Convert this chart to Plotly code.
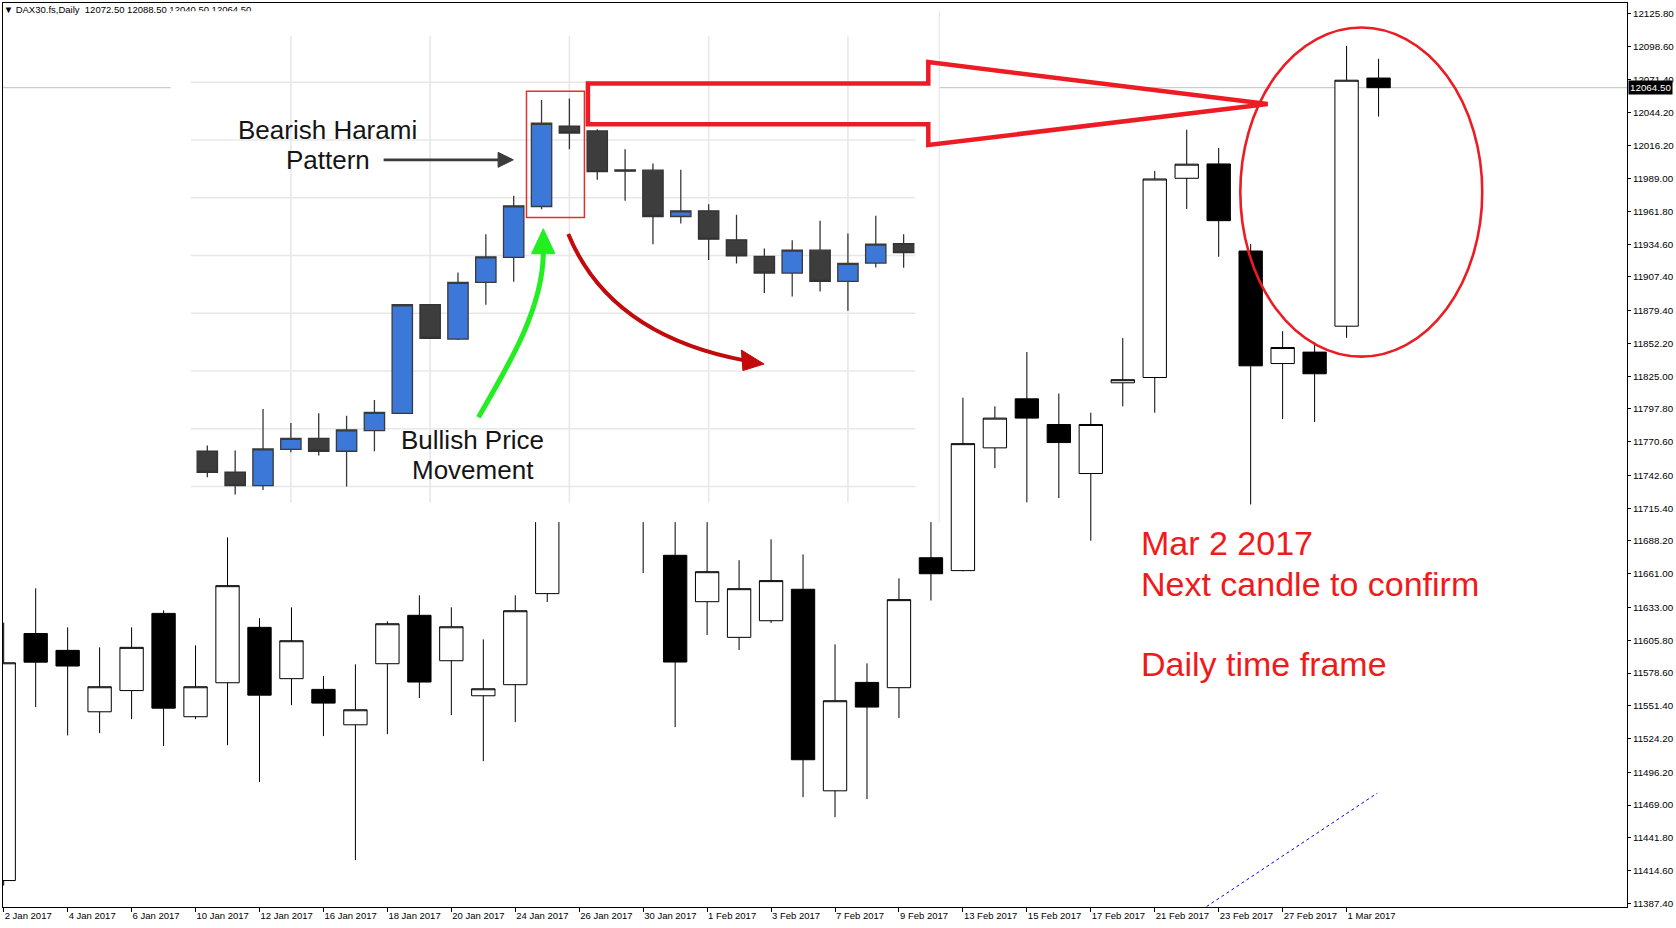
import pandas as pd
import plotly.graph_objects as go

# ---- DAX30.fs daily candles, 2 Jan - 2 Mar 2017 ----
days = [
    "2017-01-02", "2017-01-03", "2017-01-04", "2017-01-05", "2017-01-06",
    "2017-01-09", "2017-01-10", "2017-01-11", "2017-01-12", "2017-01-13",
    "2017-01-16", "2017-01-17", "2017-01-18", "2017-01-19", "2017-01-20",
    "2017-01-23", "2017-01-24", "2017-01-25", "2017-01-26", "2017-01-27",
    "2017-01-30", "2017-01-31", "2017-02-01", "2017-02-02", "2017-02-03",
    "2017-02-06", "2017-02-07", "2017-02-08", "2017-02-09", "2017-02-10",
    "2017-02-13", "2017-02-14", "2017-02-15", "2017-02-16", "2017-02-17",
    "2017-02-20", "2017-02-21", "2017-02-22", "2017-02-23", "2017-02-24",
    "2017-02-27", "2017-02-28", "2017-03-01", "2017-03-02",
]
opens = [
    11406.3, 11611.4, 11597.4, 11546.4, 11564.0, 11628.1, 11542.3, 11570.5,
    11616.5, 11573.9, 11565.0, 11535.6, 11586.3, 11626.5, 11588.8, 11559.7,
    11568.9, 11644.5, 11812.0, 11850.0, 11790.0, 11676.3, 11637.8, 11608.2,
    11622.0, 11648.1, 11480.8, 11570.8, 11566.4, 11674.3, 11663.6, 11765.5,
    11806.2, 11784.9, 11744.2, 11819.5, 11823.9, 11989.3, 12001.2, 11928.9,
    11835.5, 11845.0, 11866.5, 12072.5,
]
highs = [
    11620.4, 11648.9, 11616.5, 11599.9, 11616.5, 11630.6, 11601.6, 11691.2,
    11624.1, 11633.1, 11576.0, 11585.8, 11621.5, 11643.1, 11633.1, 11606.5,
    11643.1, 11825.0, 11893.0, 11866.0, 11800.0, 11715.0, 11712.0, 11672.2,
    11689.6, 11677.1, 11602.4, 11586.6, 11657.2, 11715.0, 11807.1, 11800.0,
    11845.1, 11810.6, 11794.7, 11856.6, 11995.4, 12029.6, 12014.5, 11934.7,
    11862.4, 11853.3, 12099.2, 12088.5,
]
lows = [
    11402.2, 11550.3, 11526.8, 11528.7, 11540.3, 11517.9, 11540.3, 11518.7,
    11488.0, 11551.9, 11526.2, 11423.2, 11527.8, 11557.8, 11543.7, 11505.4,
    11537.8, 11637.5, 11805.0, 11790.0, 11661.6, 11533.7, 11610.1, 11597.7,
    11620.1, 11475.5, 11458.9, 11473.9, 11541.2, 11638.8, 11663.0, 11748.6,
    11720.3, 11723.8, 11688.4, 11800.0, 11794.7, 11963.8, 11924.1, 11718.5,
    11789.4, 11786.9, 11856.8, 12040.5,
]
closes = [
    11587.1, 11587.6, 11584.4, 11567.2, 11599.9, 11549.4, 11567.2, 11651.1,
    11560.2, 11605.4, 11553.6, 11548.1, 11619.5, 11571.1, 11617.0, 11565.5,
    11630.3, 11810.0, 11850.0, 11815.0, 11712.0, 11587.7, 11662.7, 11648.6,
    11655.3, 11506.6, 11555.6, 11550.3, 11639.5, 11661.0, 11769.0, 11790.2,
    11790.2, 11769.9, 11784.9, 11822.1, 11988.7, 12001.0, 11954.1, 11833.6,
    11848.8, 11827.0, 12070.7, 12064.5,
]
price_ticks = [
    11387.40, 11414.60, 11441.80, 11469.00, 11496.20, 11524.20, 11551.40,
    11578.60, 11605.80, 11633.00, 11661.00, 11688.20, 11715.40, 11742.60,
    11770.60, 11797.80, 11825.00, 11852.20, 11879.40, 11907.40, 11934.60,
    11961.80, 11989.00, 12016.20, 12044.20, 12071.40, 12098.60, 12125.80,
]
last_price = 12064.50
header = "\u25bc DAX30.fs,Daily\u00a0\u00a012072.50 12088.50 12040.50 12064.50"

# blue dotted trend line (bar index, price)
trend_x = [37.62, 42.96]
trend_y = [11384.7, 11478.9]

# ---- pasted tutorial picture (own scale, bar index / arbitrary price) ----
in_open = [16.11, 12.47, 10.17, 16.45, 18.35, 16.11, 19.68, 22.68, 41.47, 35.53,
           45.33, 49.66, 58.48, 72.40, 71.56, 64.80, 64.76, 56.75, 57.73, 52.71,
           49.83, 46.95, 50.92, 45.51, 48.68, 52.05]
in_high = [17.09, 16.22, 23.43, 21.01, 22.68, 22.27, 24.98, 41.47, 41.47, 47.06,
           53.69, 60.32, 76.93, 77.16, 71.85, 68.39, 65.91, 64.82, 58.88, 57.04,
           51.21, 52.65, 56.00, 53.81, 56.86, 53.66]
in_low = [11.61, 8.61, 9.42, 15.93, 15.36, 9.99, 16.11, 22.60, 35.65, 35.36,
          41.47, 45.45, 58.02, 68.39, 63.09, 59.46, 51.96, 55.54, 49.20, 48.62,
          43.49, 42.91, 43.78, 40.43, 47.93, 47.87]
in_close = [12.47, 10.17, 16.51, 18.35, 16.11, 19.80, 22.85, 41.47, 35.65, 45.33,
            49.77, 58.59, 72.89, 71.20, 64.53, 64.60, 56.75, 57.73, 52.83, 49.94,
            46.95, 50.92, 45.51, 48.62, 51.96, 50.48]
in_grid_y = [10, 20, 30, 40, 50, 60, 70, 80]
in_grid_x = [3, 8, 13, 18, 23]

# ---- geometry ----
W, H = 1676, 928
L, R, T, B = 2, 47, 2, 21
PW, PH = W - L - R, H - T - B
x_lo, x_hi = -0.022, 50.77
y_lo, y_hi = 11384.35, 12134.8


def px(x, y):
    """screen pixel -> paper coords"""
    return (x - L) / PW, 1 - (y - T) / PH


def path(cmds):
    out = []
    for c in cmds:
        if isinstance(c, str):
            out.append(c)
        else:
            a, b = px(*c)
            out.append(f"{a:.5f},{b:.5f}")
    return " ".join(out)


pos = list(range(len(days)))
dt = pd.to_datetime(days)
tick_labels = [f"{d.day} {d:%b %Y}" for d in dt[::2]]

fig = go.Figure()

fig.add_trace(go.Candlestick(
    x=pos, open=opens, high=highs, low=lows, close=closes,
    increasing=dict(line=dict(color="black", width=1), fillcolor="white"),
    decreasing=dict(line=dict(color="black", width=1), fillcolor="black"),
))
fig.add_trace(go.Scatter(x=[x_lo + 0.02], y=[12128.4], mode="text", text=[header],
                         textposition="middle right",
                         textfont=dict(size=9.5, color="black"), hoverinfo="skip"))

# inset picture
fig.add_trace(go.Candlestick(
    x=list(range(len(in_open))), open=in_open, high=in_high, low=in_low, close=in_close,
    xaxis="x2", yaxis="y2",
    increasing=dict(line=dict(color="#3a3a3a", width=1.3), fillcolor="#3b78d8"),
    decreasing=dict(line=dict(color="#333333", width=1.3), fillcolor="#3d3d3d"),
))

ix0, iy1 = px(170, 10.2)
ix1, iy0 = px(940, 521.7)

red = "#ed1c24"
shapes = [
    # price line, under the candles
    dict(type="line", xref="x", yref="y", layer="below", x0=x_lo, x1=x_hi,
         y0=last_price, y1=last_price, line=dict(color="#c0c0c0", width=1)),
]
for v in in_grid_y:
    shapes.append(dict(type="line", xref="x2", yref="y2", layer="below",
                       x0=-0.588, x1=25.42, y0=v, y1=v,
                       line=dict(color="#e8e8e8", width=1.6)))
for i in in_grid_x:
    shapes.append(dict(type="line", xref="x2", yref="y2", layer="below",
                       x0=i, x1=i, y0=7.18, y1=87.95,
                       line=dict(color="#e8e8e8", width=1.6)))

shapes += [
    # harami box
    dict(type="rect", xref="x2", yref="y2", x0=11.46, x1=13.54, y0=56.57, y1=78.41,
         line=dict(color="#e03030", width=1.5)),
    # faint right edge of the picture
    dict(type="line", xref="paper", yref="paper", x0=ix1, x1=ix1, y0=iy0, y1=iy1,
         line=dict(color="#e2e2ea", width=1)),
    # pattern arrow
    dict(type="path", xref="paper", yref="paper",
         path=path(["M", (383.3, 159), "L", (502, 159)]),
         line=dict(color="#3c3c3c", width=2.8)),
    dict(type="path", xref="paper", yref="paper",
         path=path(["M", (513.3, 159), "L", (498, 151.5), "L", (498, 166.5), "Z"]),
         fillcolor="#3c3c3c", line=dict(color="#3c3c3c", width=1)),
    # green curved arrow
    dict(type="path", xref="paper", yref="paper",
         path=path(["M", (478.3, 416.7), "C", (505, 370), (543, 310), (543.3, 252)]),
         line=dict(color="#22ee22", width=5)),
    dict(type="path", xref="paper", yref="paper",
         path=path(["M", (543.3, 228), "L", (531.5, 253), "L", (555, 253), "Z"]),
         fillcolor="#22ee22", line=dict(color="#22ee22", width=1)),
    # dark red curved arrow
    dict(type="path", xref="paper", yref="paper",
         path=path(["M", (568.3, 233.3), "Q", (610.1, 334.6), (746, 360)]),
         line=dict(color="#c20a0a", width=4)),
    dict(type="path", xref="paper", yref="paper",
         path=path(["M", (764.4, 363.4), "L", (741.7, 349.4), "L", (743.3, 370), "Z"]),
         fillcolor="#c20a0a", line=dict(color="#c20a0a", width=1)),
    # big red outline arrow
    dict(type="path", xref="paper", yref="paper",
         path=path(["M", (588, 82.5), "L", (929, 82.5), "L", (929, 61.1), "L", (1269, 103.2),
                    "L", (929, 144.1), "L", (929, 123.4), "L", (588, 123.4), "Z"]),
         line=dict(color=red, width=4.5)),
    # red ellipse
    dict(type="circle", xref="paper", yref="paper",
         x0=px(1241.6, 0)[0], x1=px(1484, 0)[0], y0=px(0, 356)[1], y1=px(0, 26.6)[1],
         line=dict(color=red, width=2.6)),
    # blue dotted trend line
    dict(type="line", xref="x", yref="y", x0=trend_x[0], x1=trend_x[1],
         y0=trend_y[0], y1=trend_y[1], line=dict(color="#0000ff", width=1, dash="dot")),
]


def note(text, x, y, size, color, anchor="center"):
    a, b = px(x, y)
    return dict(text=text, x=a, y=b, xref="paper", yref="paper", showarrow=False,
                xanchor=anchor, yanchor="middle",
                font=dict(size=size, color=color, family="Liberation Sans"))


annotations = [
    note("Bearish Harami", 327.5, 129.0, 26, "#151515"),
    note("Pattern", 327.5, 159.0, 26, "#151515"),
    note("Bullish Price", 472.5, 439.5, 26, "#151515"),
    note("Movement", 473.0, 469.5, 26, "#151515"),
    note("Mar 2 2017", 1140.5, 543.0, 34, "#f01a1a", "left"),
    note("Next candle to confirm", 1140.5, 583.6, 34, "#f01a1a", "left"),
    note("Daily time frame", 1140.5, 663.8, 34, "#f01a1a", "left"),
    dict(text=f"{last_price:.2f}", x=1, xref="paper", y=last_price, yref="y",
         xanchor="left", yanchor="middle", showarrow=False, bgcolor="black",
         borderpad=1, xshift=1, font=dict(size=9.8, color="white")),
]

fig.update_layout(
    width=W, height=H, margin=dict(l=L, r=R, t=T, b=B),
    paper_bgcolor="white", plot_bgcolor="white",
    font=dict(family="Liberation Sans", color="black"),
    showlegend=False, boxgap=0.27, boxgroupgap=0,
    shapes=shapes, annotations=annotations,
    xaxis=dict(range=[x_lo, x_hi], tickvals=pos[::2], ticktext=tick_labels,
               ticks="outside", ticklen=4, tickcolor="black", showline=True,
               linecolor="black", mirror=True, showgrid=False, zeroline=False,
               ticklabelposition="outside right", tickfont=dict(size=9.5),
               rangeslider=dict(visible=False)),
    yaxis=dict(side="right", range=[y_lo, y_hi], tickvals=price_ticks,
               ticktext=[f"{v:.2f}" for v in price_ticks], ticks="outside", ticklen=3,
               tickcolor="black", showline=True, linecolor="black", mirror=True,
               showgrid=False, zeroline=False, tickfont=dict(size=9.8)),
    xaxis2=dict(domain=[ix0, ix1], anchor="y2", range=[-1.315, 26.28], visible=False,
                rangeslider=dict(visible=False)),
    yaxis2=dict(domain=[iy0, iy1], anchor="x2", range=[3.84, 92.29], visible=False),
)

fig.write_html("out.html", config={"displayModeBar": False},
               post_script="document.body.style.margin='0';")
